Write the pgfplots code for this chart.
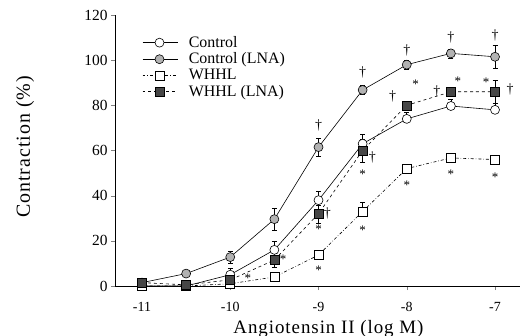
\documentclass[border=0pt]{standalone}
\usepackage{pgfplots}
\pgfplotsset{compat=1.18}
\usepackage{fontspec}
\setmainfont{Liberation Serif}
\newfontfamily\labelfont[LetterSpace=5]{Liberation Serif}
\begin{document}
\begin{tikzpicture}
\begin{axis}[
  scale only axis, width=405bp, height=271bp,
  xmin=-11.306, xmax=-6.717, ymin=0, ymax=120,
  axis lines=left, axis line style={-, black, line width=0.7pt},
  tick align=outside, major tick length=4bp,
  xtick={-11,-10,-9,-8,-7}, ytick={0,20,...,120},
  xticklabels={-11,-10,-9,-8,-7},
  /pgf/number format/assume math mode=true,
  yticklabel style={font=\fontsize{15.5}{16}\selectfont},
  xticklabel style={font=\fontsize{14}{15}\selectfont, yshift=-9bp},
  xlabel={\labelfont Angiotensin II (log M)},
  ylabel={\labelfont Contraction (\%)},
  xlabel style={font=\fontsize{19}{20}\selectfont, at={(axis description cs:0.527,0)}, anchor=base, yshift=-47bp},
  ylabel style={font=\fontsize{20}{21}\selectfont, at={(axis description cs:-0.222,0.513)}, anchor=center},
  legend style={draw=none, fill=none, at={(axis cs:-11.0,111.5)}, anchor=north west,
    font=\fontsize{16}{16}\selectfont, row sep=0bp, inner sep=0pt,
    /tikz/every odd column/.append style={column sep=9bp}},
  legend cell align=left,
  legend image code/.code={\draw[mark repeat=2,mark phase=2] plot coordinates {(0bp,0bp) (17bp,0bp) (35bp,0bp)};},
  clip=false,
  error bars/error bar style={line width=0.6pt, solid},
  error bars/error mark options={rotate=90, mark size=2.5bp, solid},
]
% Control (open circles)
\addplot[black, line width=0.6pt, solid, mark=*, mark options={fill=white, solid}, mark size=4.5bp,
  error bars/.cd, y dir=plus, y explicit]
  coordinates {(-11,0) +- (0,0) (-10.5,0) +- (0,0) (-10,5) +- (0,3) (-9.5,16) +- (0,4)
   (-9,38) +- (0,4) (-8.5,63) +- (0,4) (-8,74) +- (0,3) (-7.5,79.7) +- (0,3) (-7,78) +- (0,3)};
\addlegendentry{Control}
% Control (LNA) (filled circles)
\addplot[black, line width=0.6pt, solid, mark=*, mark options={fill=gray!60, solid}, mark size=4.5bp,
  error bars/.cd, y dir=both, y explicit]
  coordinates {(-11,1.5) +- (0,1) (-10.5,5.5) +- (0,1) (-10,12.8) +- (0,2.5) (-9.5,29.6) +- (0,5)
   (-9,61.5) +- (0,4) (-8.5,86.8) +- (0,2) (-8,98) +- (0,2) (-7.5,103) +- (0,2) (-7,101.5) +- (0,5)};
\addlegendentry{Control (LNA)}
% WHHL (open squares)
\addplot[black, line width=0.6pt, dash dot, mark=square*, mark options={fill=white, solid}, mark size=4.5bp,
  error bars/.cd, y dir=plus, y explicit]
  coordinates {(-11,0) +- (0,0) (-10.5,0) +- (0,0) (-10,1) +- (0,1) (-9.5,4) +- (0,1)
   (-9,13.7) +- (0,1) (-8.5,33) +- (0,4) (-8,52) +- (0,1.5) (-7.5,56.7) +- (0,1) (-7,56) +- (0,1)};
\addlegendentry{WHHL}
% WHHL (LNA) (filled squares)
\addplot[black, line width=0.6pt, dashed, mark=square*, mark options={fill=gray!55!black, solid}, mark size=4.5bp,
  error bars/.cd, y dir=both, y explicit]
  coordinates {(-11,1.5) +- (0,1.5) (-10.5,0.5) +- (0,0.5) (-10,2.7) +- (0,2.5) (-9.5,11.5) +- (0,3)
   (-9,32) +- (0,4) (-8.5,60) +- (0,5) (-8,80) +- (0,2) (-7.5,86) +- (0,2) (-7,86) +- (0,5)};
\addlegendentry{WHHL (LNA)}
% annotations
\begin{scope}[every node/.style={font=\fontsize{14}{14}\selectfont, inner sep=0pt}]
\node at (axis cs:-9,71) {†};
\node at (axis cs:-8.5,94.5) {†};
\node at (axis cs:-8,104.5) {†};
\node at (axis cs:-7.5,110) {†};
\node at (axis cs:-7,111) {†};
\node at (axis cs:-8.90,32) {†};
\node at (axis cs:-8.39,57) {†};
\node at (axis cs:-8.16,84) {†};
\node at (axis cs:-7.66,86) {†};
\node at (axis cs:-6.83,87) {†};
\end{scope}
\begin{scope}[every node/.style={font=\fontsize{13}{13}\selectfont, inner sep=0pt}]
\node at (axis cs:-9.40,12) {*};
\node at (axis cs:-9,25) {*};
\node at (axis cs:-8.5,49.5) {*};
\node at (axis cs:-7.90,89.5) {*};
\node at (axis cs:-7.42,90.5) {*};
\node at (axis cs:-7.10,90) {*};
\node at (axis cs:-9.80,3.5) {*};
\node at (axis cs:-9,7) {*};
\node at (axis cs:-8.5,24.5) {*};
\node at (axis cs:-8,44.5) {*};
\node at (axis cs:-7.5,49.5) {*};
\node at (axis cs:-7,48) {*};
\end{scope}
\end{axis}
\pgfresetboundingbox
\path[use as bounding box] (-115bp,-50bp) rectangle (411bp,286bp);
\end{tikzpicture}
\end{document}
